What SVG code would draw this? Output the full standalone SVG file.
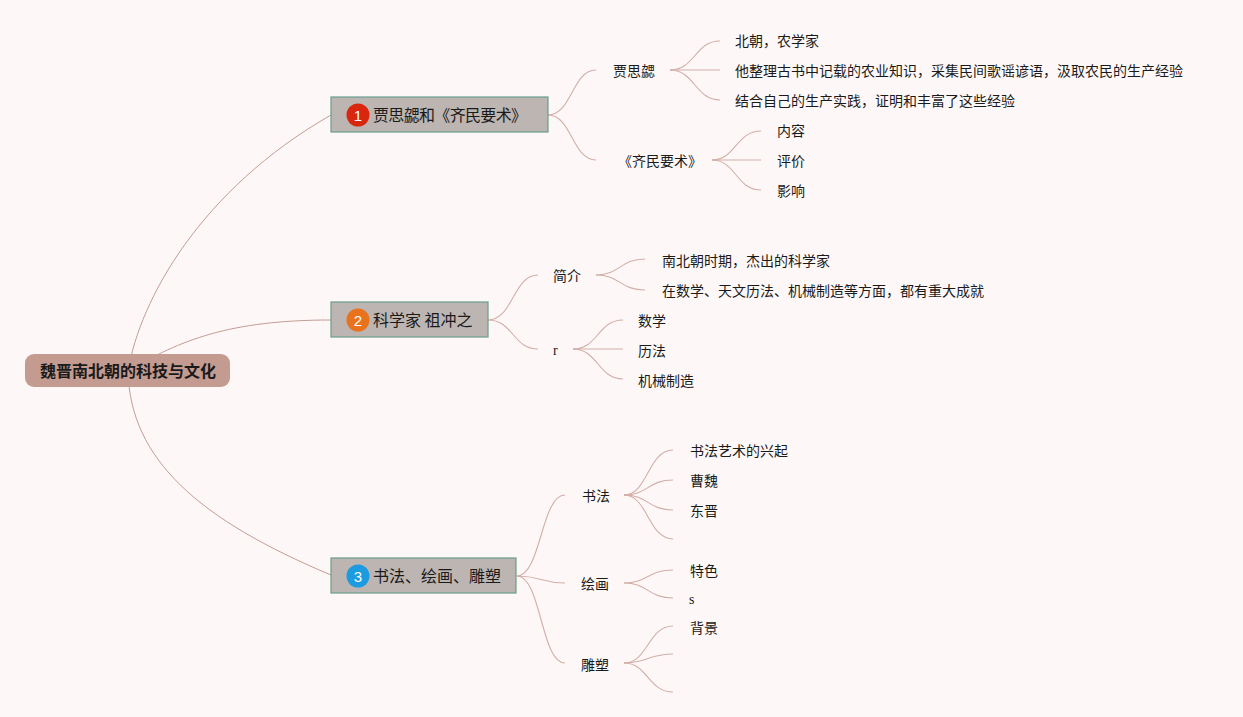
<svg xmlns="http://www.w3.org/2000/svg" width="1243" height="717" viewBox="0 0 1243 717">
<style>
text{font-family:"Noto Sans CJK SC","Liberation Sans",sans-serif;fill:#1a1a1a}
.t{font-size:14px}
.m{font-size:16px}
.r{font-size:16px;font-weight:bold}
.s{font-family:"Liberation Serif",serif;font-size:14px}
.c{fill:none;stroke:#d2aea8;stroke-width:1.1}
.rc{fill:none;stroke:#c29d94;stroke-width:1}
.box{fill:#bdb5b2;stroke:#6a9d8e;stroke-width:1.2}
.ic{fill:#fff;font-family:"Liberation Sans",sans-serif;font-size:15px}
</style>
<rect width="1243" height="717" fill="#fdf8f7"/>
<g id="connectors">
<path class="rc" d="M128,371 C140,300 200,190 331,115"/>
<path class="rc" d="M128,371 C180,340 230,320 331,320"/>
<path class="rc" d="M128,371 C130,460 200,520 331,575"/>
<path class="c" d="M548,115 C572,115 572,70 596,70"/>
<path class="c" d="M548,115 C572,115 572,160 596,160"/>
<path class="c" d="M670,70 C695,70 695,41 720,41"/>
<path class="c" d="M670,70 L720,70"/>
<path class="c" d="M670,70 C695,70 695,100 720,100"/>
<path class="c" d="M712,160 C736,160 736,131 761,131"/>
<path class="c" d="M712,160 L761,160"/>
<path class="c" d="M712,160 C736,160 736,190 761,190"/>
<path class="c" d="M488,320 C513,320 513,275 538,275"/>
<path class="c" d="M488,320 C513,320 513,349 538,349"/>
<path class="c" d="M596,275 C620,275 620,259 645,259"/>
<path class="c" d="M596,275 C620,275 620,290 645,290"/>
<path class="c" d="M573,349 C598,349 598,320 623,320"/>
<path class="c" d="M573,349 L623,349"/>
<path class="c" d="M573,349 C598,349 598,379 623,379"/>
<path class="c" d="M517,576 C541,576 541,495 565,495"/>
<path class="c" d="M517,576 C541,576 541,583 565,583"/>
<path class="c" d="M517,576 C541,576 541,663 565,663"/>
<path class="c" d="M624,495 C648,495 648,450 673,450"/>
<path class="c" d="M624,495 C648,495 648,480 673,480"/>
<path class="c" d="M624,495 C648,495 648,510 673,510"/>
<path class="c" d="M624,495 C648,495 648,539 673,539"/>
<path class="c" d="M624,583 C648,583 648,570 673,570"/>
<path class="c" d="M624,583 C648,583 648,598 673,598"/>
<path class="c" d="M624,663 C648,663 648,626 673,626"/>
<path class="c" d="M624,663 C648,663 648,654 673,654"/>
<path class="c" d="M624,663 C648,663 648,692 673,692"/>
</g>
<g id="root">
<rect x="25" y="354" width="205" height="33" rx="9" fill="#c39b91"/>
<text class="r" x="128" y="377" text-anchor="middle">魏晋南北朝的科技与文化</text>
</g>
<g id="n1">
<rect class="box" x="331" y="97" width="217" height="35"/>
<circle cx="358" cy="115" r="11.5" fill="#d8260f"/>
<text class="ic" x="358" y="120.5" text-anchor="middle">1</text>
<text class="m" x="373" y="120.5" textLength="154">贾思勰和《齐民要术》</text>
</g>
<g id="n2">
<rect class="box" x="331" y="302" width="157" height="35"/>
<circle cx="358" cy="320" r="11.5" fill="#e8731c"/>
<text class="ic" x="358" y="325.5" text-anchor="middle">2</text>
<text class="m" x="373" y="325.5">科学家 祖冲之</text>
</g>
<g id="n3">
<rect class="box" x="331" y="558" width="185" height="35"/>
<circle cx="358" cy="576" r="11.5" fill="#1d9be0"/>
<text class="ic" x="358" y="581.5" text-anchor="middle">3</text>
<text class="m" x="373" y="581.5">书法、绘画、雕塑</text>
</g>
<g id="n1a"><text class="t" x="613" y="76">贾思勰</text></g>
<g id="n1a1"><text class="t" x="735" y="46">北朝，农学家</text></g>
<g id="n1a2"><text class="t" x="735" y="76">他整理古书中记载的农业知识，采集民间歌谣谚语，汲取农民的生产经验</text></g>
<g id="n1a3"><text class="t" x="735" y="106">结合自己的生产实践，证明和丰富了这些经验</text></g>
<g id="n1b"><text class="t" x="618" y="166">《齐民要术》</text></g>
<g id="n1b1"><text class="t" x="777" y="136">内容</text></g>
<g id="n1b2"><text class="t" x="777" y="166">评价</text></g>
<g id="n1b3"><text class="t" x="777" y="196">影响</text></g>
<g id="n2a"><text class="t" x="553" y="281">简介</text></g>
<g id="n2a1"><text class="t" x="662" y="266">南北朝时期，杰出的科学家</text></g>
<g id="n2a2"><text class="t" x="662" y="296">在数学、天文历法、机械制造等方面，都有重大成就</text></g>
<g id="n2b"><text class="s" x="553" y="355">r</text></g>
<g id="n2b1"><text class="t" x="638" y="326">数学</text></g>
<g id="n2b2"><text class="t" x="638" y="356">历法</text></g>
<g id="n2b3"><text class="t" x="638" y="386">机械制造</text></g>
<g id="n3a"><text class="t" x="582" y="501">书法</text></g>
<g id="n3a1"><text class="t" x="690" y="456">书法艺术的兴起</text></g>
<g id="n3a2"><text class="t" x="690" y="486">曹魏</text></g>
<g id="n3a3"><text class="t" x="690" y="516">东晋</text></g>
<g id="n3b"><text class="t" x="581" y="589">绘画</text></g>
<g id="n3b1"><text class="t" x="690" y="576">特色</text></g>
<g id="n3b2"><text class="s" x="689" y="604">s</text></g>
<g id="n3c"><text class="t" x="581" y="670">雕塑</text></g>
<g id="n3c1"><text class="t" x="690" y="633">背景</text></g>
</svg>
